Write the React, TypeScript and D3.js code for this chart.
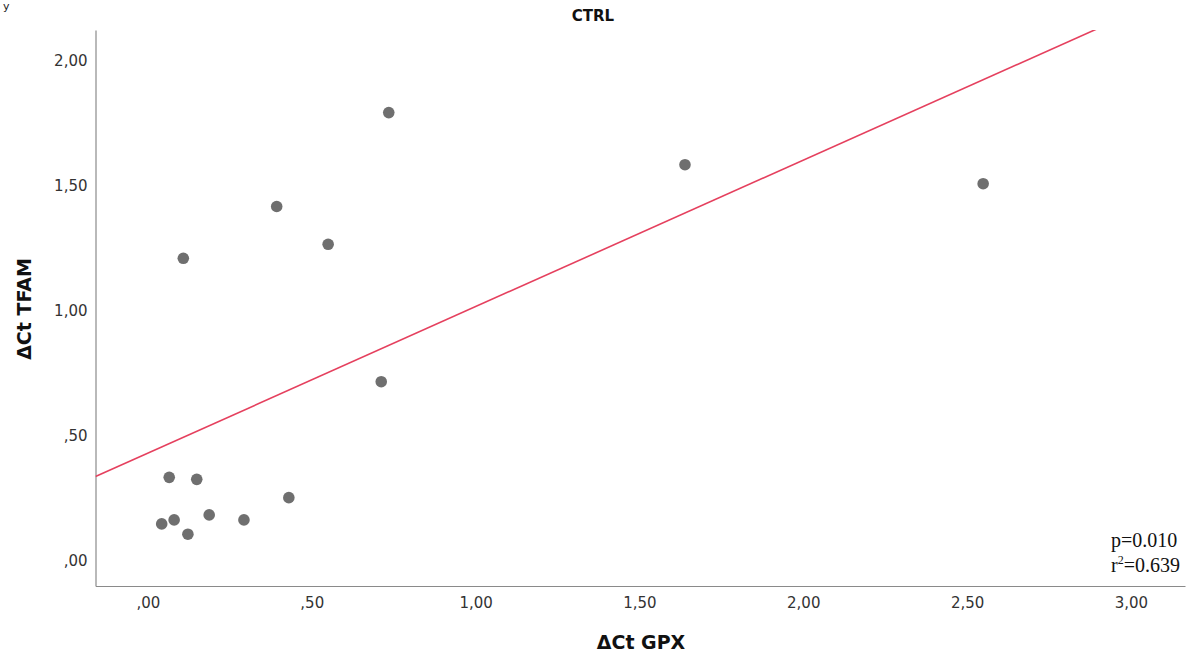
import React, { useEffect, useRef } from "react";
import * as d3 from "d3";

// values
const gpx = [0.065, 0.149, 0.43, 0.042, 0.08, 0.187, 0.293, 0.122, 0.108, 0.393, 0.55, 0.735, 0.712, 1.639, 2.549];
const tfam = [0.334, 0.326, 0.253, 0.148, 0.164, 0.184, 0.164, 0.107, 1.209, 1.416, 1.265, 1.791, 0.716, 1.583, 1.507];
const xTicks = [0, 0.5, 1, 1.5, 2, 2.5, 3];
const yTicks = [0, 0.5, 1, 1.5, 2];
const fit = [0.431, 0.585]; // intercept, slope
const stats = ["p=0.010", "0.639"];

const App = () => {
  const ref = useRef<SVGSVGElement>(null);

  useEffect(() => {
    makeGraph();
  }, []);

  const makeGraph = () => {
    const width = 1197;
    const height = 655;
    const svg = d3.select(ref.current);
    svg.selectAll("*").remove();

    const x = d3.scaleLinear().domain([-0.16, 3.165]).range([95.5, 1185]);
    const y = d3.scaleLinear().domain([-0.1, 2.121]).range([586, 30]);

    const fmt = (v: number) => d3.format(".2f")(v).replace(".", ",").replace(/^0/, "");
    const font = "'DejaVu Sans', sans-serif";

    // stray glyph at the corner of the crop
    svg.append("text").attr("x", 3).attr("y", 10).text("y")
      .attr("font-family", font).attr("font-size", 11).attr("fill", "#222");

    // title
    svg.append("text").attr("x", 593).attr("y", 21).attr("text-anchor", "middle")
      .attr("font-family", font).attr("font-weight", "bold").attr("font-size", 15)
      .attr("fill", "#111").text("CTRL");

    const xAxis = (g: any) =>
      g.attr("transform", `translate(0, ${y.range()[0]})`)
        .call(d3.axisBottom(x).tickValues(xTicks).tickFormat(fmt as any).tickSize(0).tickSizeOuter(0).tickPadding(11));
    const yAxis = (g: any) =>
      g.attr("transform", `translate(${x.range()[0]}, 0)`)
        .call(d3.axisLeft(y).tickValues(yTicks).tickFormat(fmt as any).tickSize(0).tickSizeOuter(0).tickPadding(8));

    [svg.append("g").call(xAxis), svg.append("g").call(yAxis)].forEach((g: any) => {
      g.select(".domain").attr("stroke", "#8a8a8a").attr("stroke-width", 1.2);
      g.selectAll("text").attr("font-family", font).attr("font-size", 15).attr("fill", "#333");
    });

    // axis titles
    svg.append("text").attr("x", 641).attr("y", 649).attr("text-anchor", "middle")
      .attr("font-family", font).attr("font-weight", "bold").attr("font-size", 19)
      .attr("fill", "#111").text("ΔCt GPX");
    svg.append("text").attr("transform", "translate(31, 309) rotate(-90)").attr("text-anchor", "middle")
      .attr("font-family", font).attr("font-weight", "bold").attr("font-size", 19)
      .attr("fill", "#111").text("ΔCt TFAM");

    // regression line, clipped to the plot area
    svg.append("clipPath").attr("id", "plot-clip").append("rect")
      .attr("x", x.range()[0]).attr("y", y.range()[1])
      .attr("width", x.range()[1] - x.range()[0]).attr("height", y.range()[0] - y.range()[1]);
    const line = d3.line<number>().x((d) => x(d)).y((d) => y(fit[0] + fit[1] * d));
    svg.append("path").datum(x.domain())
      .attr("clip-path", "url(#plot-clip)")
      .attr("fill", "none").attr("stroke", "#e5405e").attr("stroke-width", 1.6)
      .attr("d", line as any);

    // points
    svg.append("g").selectAll("circle").data(gpx).enter().append("circle")
      .attr("cx", (d) => x(d)).attr("cy", (d, i) => y(tfam[i]))
      .attr("r", 5.8).attr("fill", "#6f6f6f");

    // stats
    const serif = "'Liberation Serif', 'Times New Roman', serif";
    svg.append("text").attr("x", 1111).attr("y", 547)
      .attr("font-family", serif).attr("font-size", 20).attr("fill", "#111").text(stats[0]);
    const r2 = svg.append("text").attr("x", 1111).attr("y", 572)
      .attr("font-family", serif).attr("font-size", 20).attr("fill", "#111");
    r2.append("tspan").text("r");
    r2.append("tspan").attr("font-size", 12).attr("dy", -8).text("2");
    r2.append("tspan").attr("dy", 8).text("=" + stats[1]);

    svg.attr("width", width).attr("height", height);
  };

  return <svg ref={ref} width={1197} height={655} style={{ position: "absolute", left: 0, top: 0, background: "#fff" }} />;
};
export default App;
